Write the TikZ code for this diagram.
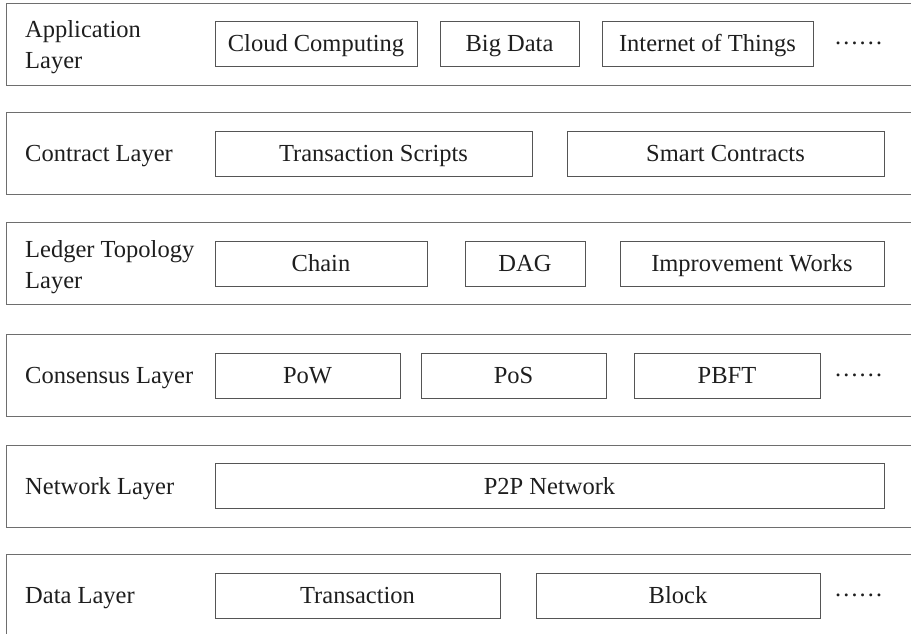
\documentclass[tikz,border=0pt]{standalone}
\usepackage{fontspec}
\setmainfont{Liberation Serif}
\definecolor{lc}{RGB}{110,110,110}
\definecolor{ic}{RGB}{85,85,85}
\definecolor{tc}{RGB}{30,30,30}
\begin{document}
\begin{tikzpicture}[x=1pt,y=-1pt,
  txt/.style={font=\fontsize{24.5}{31}\selectfont, text=tc},
  layer/.style={draw=lc, line width=1.3pt, rectangle, minimum height=82pt, minimum width=940pt, anchor=north west, inner sep=0pt},
  ibox/.style={txt, draw=ic, line width=1pt, rectangle, minimum height=45pt, inner sep=0pt, text height=16pt, text depth=0pt},
  lab/.style={txt, anchor=west, inner sep=0pt, text height=16pt, text depth=0pt},
  lab2/.style={txt, anchor=west, inner sep=0pt, align=left},
  dots/.style={txt, inner sep=0pt}]
\useasboundingbox (0,0) rectangle (911,633);
\clip (0,0) rectangle (911,633);
% layers
\node[layer] (L1) at (6,3) {};
\node[layer] (L2) at (6,112) {};
\node[layer] (L3) at (6,222) {};
\node[layer] (L4) at (6,334) {};
\node[layer] (L5) at (6,445) {};
\node[layer] (L6) at (6,554) {};
% Application
\node[lab2] (l1) at (25,47) {Application\\Layer};
\node[ibox, minimum width=202pt] (cc) at (316,43.5) {Cloud Computing};
\node[ibox, minimum width=139pt] (bd) at (509.5,43.5) {Big Data};
\node[ibox, minimum width=211pt] (iot) at (707.5,43.5) {Internet of Things};
\node[dots] (d1) at (858.5,43.5) {……};
% Contract
\node[lab] (l2) at (25,153.5) {Contract Layer};
\node[ibox, minimum width=317pt] (ts) at (373.5,153.5) {Transaction Scripts};
\node[ibox, minimum width=317pt] (sc) at (725.5,153.5) {Smart Contracts};
% Ledger
\node[lab2] (l3) at (25,267) {Ledger Topology\\Layer};
\node[ibox, minimum width=212pt] (ch) at (321,263.5) {Chain};
\node[ibox, minimum width=120pt] (dag) at (525,263.5) {DAG};
\node[ibox, minimum width=264pt] (iw) at (752,263.5) {Improvement Works};
% Consensus
\node[lab] (l4) at (25,375.5) {Consensus Layer};
\node[ibox, minimum width=185pt] (pow) at (307.5,375.5) {PoW};
\node[ibox, minimum width=185pt] (pos) at (513.5,375.5) {PoS};
\node[ibox, minimum width=186pt] (pbft) at (727,375.5) {PBFT};
\node[dots] (d4) at (858.5,375.5) {……};
% Network
\node[lab] (l5) at (25,486) {Network Layer};
\node[ibox, minimum width=669pt] (p2p) at (549.5,486) {P2P Network};
% Data
\node[lab] (l6) at (25,595.5) {Data Layer};
\node[ibox, minimum width=285pt] (tx) at (357.5,595.5) {Transaction};
\node[ibox, minimum width=284pt] (blk) at (678,595.5) {Block};
\node[dots] (d6) at (858.5,595.5) {……};
\end{tikzpicture}
\end{document}
